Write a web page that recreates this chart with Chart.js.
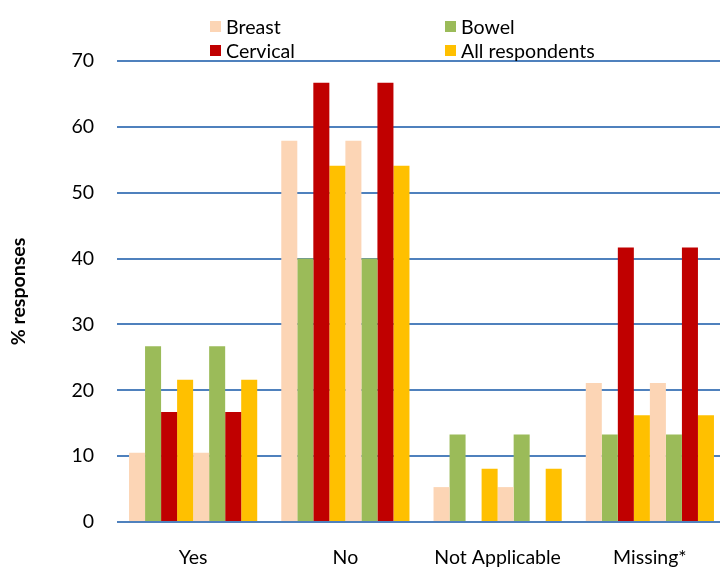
<!DOCTYPE html>
<html>
<head>
<meta charset="utf-8">
<script src="https://cdn.jsdelivr.net/npm/chart.js@4.4.1/dist/chart.umd.min.js"></script>
<style>
  html, body { margin: 0; padding: 0; background: #fff; overflow: hidden; }
  #wrap { position: relative; width: 720px; height: 568px; overflow: hidden; }
  canvas { position: absolute; left: 0; top: 0; }
  .lg { position: absolute; font-family: Lato, "Open Sans", sans-serif; font-size: 19.6px; line-height: 19px; color: #000; white-space: nowrap; }
  .sw { position: absolute; width: 11px; height: 11px; }
</style>
</head>
<body>
<div id="wrap">
  <canvas id="c" width="726" height="568"></canvas>
  <div id="legend"></div>
</div>
<script>
const categories = ['Yes', 'No', 'Not Applicable', 'Missing*'];
const seriesNames = ['Breast', 'Bowel', 'Cervical', 'All respondents'];
const breast = [10.5, 57.9, 5.3, 21.1];
const bowel = [26.7, 40.0, 13.3, 13.3];
const cervical = [16.7, 66.7, 0, 41.7];
const allRespondents = [21.6, 54.1, 8.1, 16.2];
const yTicks = [0, 10, 20, 30, 40, 50, 60, 70];
const yTitle = '% responses';

const colors = ['#FCD5B5', '#9BBB59', '#C00000', '#FFC000'];
const seriesData = [breast, bowel, cervical, allRespondents];

// The original chart shows each series twice within every category.
const datasets = [];
for (let rep = 0; rep < 2; rep++) {
  seriesData.forEach((d, i) => {
    datasets.push({
      label: seriesNames[i],
      data: d,
      backgroundColor: colors[i],
      borderWidth: 0,
      categoryPercentage: 0.842,
      barPercentage: 1.0
    });
  });
}

// HTML legend (2 x 2 grid like the original)
const legendPos = [
  { x: 210, y: 21 }, { x: 445, y: 21 },
  { x: 210, y: 45 }, { x: 445, y: 45 }
];
const legendEl = document.getElementById('legend');
seriesNames.forEach((name, i) => {
  const p = legendPos[i];
  const sw = document.createElement('div');
  sw.className = 'sw';
  sw.style.left = p.x + 'px';
  sw.style.top = p.y + 'px';
  sw.style.background = colors[i];
  legendEl.appendChild(sw);
  const t = document.createElement('div');
  t.className = 'lg';
  t.style.left = (p.x + 16) + 'px';
  t.style.top = (p.y - 4) + 'px';
  t.textContent = name;
  legendEl.appendChild(t);
});

new Chart(document.getElementById('c'), {
  type: 'bar',
  data: { labels: categories, datasets },
  options: {
    responsive: false,
    animation: false,
    devicePixelRatio: 1,
    layout: { padding: { top: 61, right: 0, left: 0, bottom: 0 } },
    plugins: { legend: { display: false }, tooltip: { enabled: false } },
    scales: {
      x: {
        grid: { display: false, drawTicks: false },
        border: { display: false },
        ticks: { color: '#000', font: { family: 'Lato', size: 19.5 }, padding: 24, maxRotation: 0, autoSkip: false },
        afterFit: s => { s.height = 46; }
      },
      y: {
        min: 0, max: 70,
        afterBuildTicks: s => { s.ticks = yTicks.map(v => ({ value: v })); },
        grid: { color: '#4F81BD', lineWidth: 2, drawTicks: false },
        border: { display: false },
        ticks: { color: '#000', font: { family: 'Lato', size: 19.5 }, padding: 23 },
        title: { display: true, text: yTitle, color: '#000', font: { family: 'Lato', size: 19.5, weight: 'bold' }, padding: { top: 7, bottom: 0 } },
        afterFit: s => { s.width = 117; }
      }
    }
  }
});
</script>
</body>
</html>
